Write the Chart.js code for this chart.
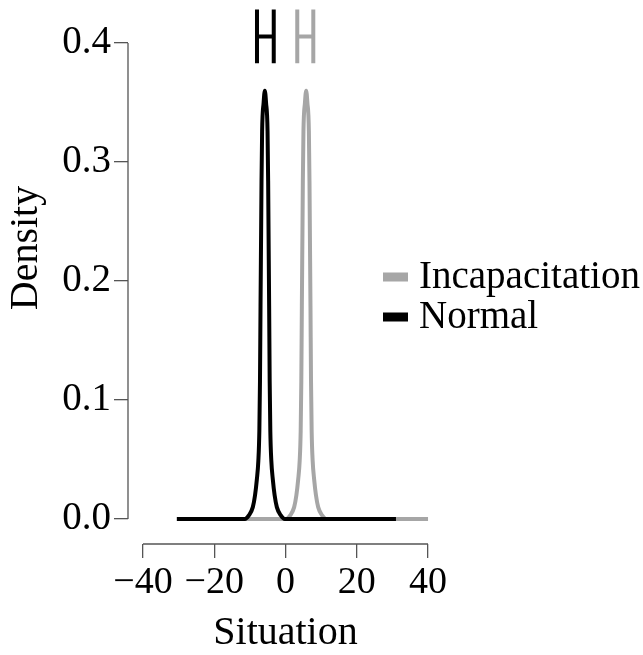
<!DOCTYPE html>
<html>
<head>
<meta charset="utf-8">
<script src="https://cdn.jsdelivr.net/npm/chart.js@4.4.1/dist/chart.umd.min.js"></script>
<style>
  html, body { margin: 0; padding: 0; background: #fff; }
  #wrap { width: 643px; height: 655px; }
</style>
</head>
<body>
<div id="wrap"><canvas id="densityChart" width="643" height="655"></canvas></div>
<script>
const seriesNames = ['Incapacitation', 'Normal'];
const seriesColors = ['#a6a6a6', '#000000'];

// density curves
const incapX = [-21, 0.2, 1.31, 2.43, 3.05, 3.55, 3.98, 4.26, 4.44, 4.59, 4.76, 4.87, 5.04, 5.46, 5.8,
  6.14, 6.56, 6.73, 6.84, 7.01, 7.16, 7.34, 7.62, 8.05, 8.55, 9.17, 10.29, 11.4, 40];
const incapY = [0, 0, 0.003, 0.010, 0.020, 0.033, 0.049, 0.074, 0.116, 0.179, 0.242, 0.284, 0.326, 0.350, 0.360,
  0.350, 0.326, 0.284, 0.242, 0.179, 0.116, 0.074, 0.049, 0.033, 0.020, 0.010, 0.003, 0, 0];
const normalX = [-30.5, -11.4, -10.29, -9.17, -8.55, -8.05, -7.62, -7.34, -7.16, -7.01, -6.84, -6.73, -6.56, -6.14, -5.8,
  -5.46, -5.04, -4.87, -4.76, -4.59, -4.44, -4.26, -3.98, -3.55, -3.05, -2.43, -1.31, -0.2, 31];
const normalY = [0, 0, 0.003, 0.010, 0.020, 0.033, 0.049, 0.074, 0.116, 0.179, 0.242, 0.284, 0.326, 0.350, 0.360,
  0.350, 0.326, 0.284, 0.242, 0.179, 0.116, 0.074, 0.049, 0.033, 0.020, 0.010, 0.003, 0, 0];

// interval bars over the peaks (Incapacitation, Normal)
const intervalLow = [3.3, -8.0];
const intervalHigh = [7.8, -3.3];

const xTicks = [-40, -20, 0, 20, 40];
const yTicks = [0, 0.1, 0.2, 0.3, 0.4];

const FONT = "'Liberation Serif', 'Times New Roman', serif";
const barBottom = 0.383, barTop = 0.4283, barMid = 0.4056;

// Normal is drawn on top of Incapacitation
const curves = [[incapX, incapY], [normalX, normalY]].map(([xs, ys], i) => ({
  label: seriesNames[i],
  data: xs.map((x, k) => ({ x: x, y: ys[k] })),
  borderColor: seriesColors[i],
  backgroundColor: seriesColors[i],
  borderWidth: 4,
  pointRadius: 0,
  showLine: true,
  cubicInterpolationMode: 'monotone',
  clip: false,
  order: i === 1 ? 0 : 1
}));

const bars = intervalLow.map((lo, i) => ({
  label: seriesNames[i] + ' interval',
  data: [
    { x: lo, y: barBottom }, { x: lo, y: barTop }, { x: lo, y: null },
    { x: lo, y: barMid }, { x: intervalHigh[i], y: barMid }, { x: lo, y: null },
    { x: intervalHigh[i], y: barBottom }, { x: intervalHigh[i], y: barTop }
  ],
  borderColor: seriesColors[i],
  borderWidth: 4,
  pointRadius: 0,
  showLine: true,
  spanGaps: false,
  clip: false,
  order: 2
}));

// R-style axis lines that only run between the outer ticks, y title and legend
const rStyle = {
  id: 'rStyle',
  afterDraw(chart) {
    const { ctx, chartArea, scales } = chart;
    ctx.save();
    ctx.strokeStyle = '#555';
    ctx.lineWidth = 1.3;
    ctx.beginPath();
    ctx.moveTo(scales.x.getPixelForValue(xTicks[0]), chartArea.bottom);
    ctx.lineTo(scales.x.getPixelForValue(xTicks[xTicks.length - 1]), chartArea.bottom);
    ctx.moveTo(chartArea.left, scales.y.getPixelForValue(yTicks[0]));
    ctx.lineTo(chartArea.left, scales.y.getPixelForValue(yTicks[yTicks.length - 1]));
    ctx.stroke();

    ctx.fillStyle = '#000';
    ctx.font = '40px ' + FONT;
    ctx.textAlign = 'center';
    ctx.textBaseline = 'middle';
    ctx.translate(26, 248);
    ctx.rotate(-Math.PI / 2);
    ctx.fillText('Density', 0, 0);
    ctx.setTransform(1, 0, 0, 1, 0, 0);

    ctx.font = '39px ' + FONT;
    ctx.textAlign = 'left';
    seriesNames.forEach((name, i) => {
      const y = 277 + i * 40;
      ctx.fillStyle = seriesColors[i];
      ctx.fillRect(383, y - 4.5, 25, 9);
      ctx.fillStyle = '#000';
      ctx.fillText(name, 419, y + 1);
    });
    ctx.restore();
  }
};

new Chart(document.getElementById('densityChart'), {
  type: 'scatter',
  data: { datasets: curves.concat(bars) },
  options: {
    responsive: false,
    animation: false,
    devicePixelRatio: 1,
    layout: { padding: { left: 0, right: 200, top: 5, bottom: 0 } },
    plugins: { legend: { display: false }, tooltip: { enabled: false } },
    scales: {
      x: {
        type: 'linear',
        min: -44.2,
        max: 44.2,
        afterBuildTicks: s => { s.ticks = xTicks.map(v => ({ value: v })); },
        afterFit: s => { s.height = 111; },
        border: { display: false },
        grid: { drawOnChartArea: false, drawTicks: true, tickLength: 14, color: '#555', lineWidth: 1.3 },
        ticks: {
          color: '#000',
          font: { family: FONT, size: 38 },
          padding: 2,
          maxRotation: 0,
          autoSkip: false,
          callback: v => String(v).replace('-', '\u2212')
        },
        title: { display: true, text: 'Situation', color: '#000', font: { family: FONT, size: 40, lineHeight: 1 }, padding: { top: 0, bottom: 2 } }
      },
      y: {
        min: -0.021,
        max: 0.414,
        afterBuildTicks: s => { s.ticks = yTicks.map(v => ({ value: v })); },
        afterFit: s => { s.width = 128; },
        border: { display: false },
        grid: { drawOnChartArea: false, drawTicks: true, tickLength: 14, color: '#555', lineWidth: 1.3 },
        ticks: {
          color: '#000',
          font: { family: FONT, size: 39 },
          padding: 3,
          autoSkip: false,
          callback: v => v.toFixed(1)
        }
      }
    }
  },
  plugins: [rStyle]
});
</script>
</body>
</html>
